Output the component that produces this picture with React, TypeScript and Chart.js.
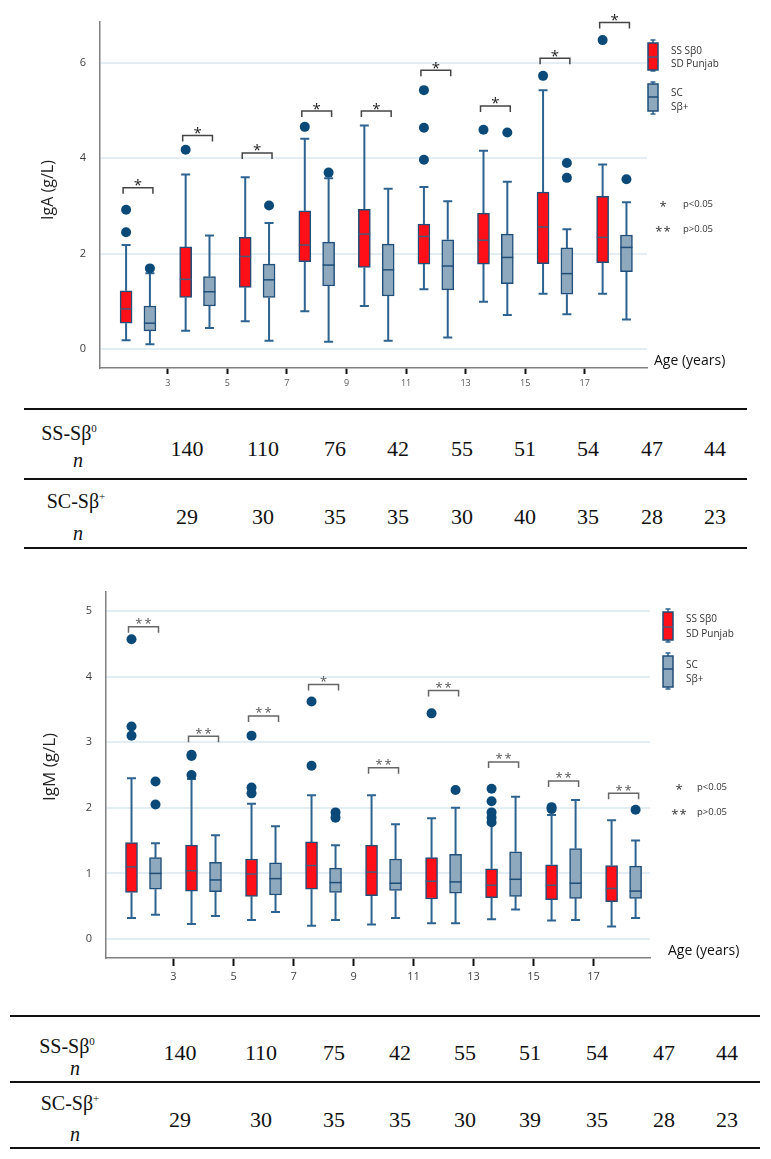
import React, { useEffect, useRef } from "react";
import { Chart, registerables } from "chart.js";

Chart.register(...registerables);

// ---------------- DATA ----------------
const ages = [2, 4, 6, 8, 10, 12, 14, 16, 18];
const xTickAges = [3, 5, 7, 9, 11, 13, 15, 17];

// IgA (g/L)
const igaYTicks = [0, 2, 4, 6];
const igaSSLow = [0.18, 0.38, 0.58, 0.79, 0.9, 1.25, 0.99, 1.16, 1.16];
const igaSSQ1 = [0.54, 1.08, 1.29, 1.83, 1.71, 1.78, 1.78, 1.79, 1.81];
const igaSSMed = [0.84, 1.46, 1.94, 2.18, 2.41, 2.36, 2.28, 2.56, 2.34];
const igaSSQ3 = [1.22, 2.14, 2.34, 2.9, 2.93, 2.62, 2.85, 3.29, 3.2];
const igaSSHigh = [2.18, 3.66, 3.6, 4.41, 4.69, 3.4, 4.16, 5.43, 3.87];
const igaSSOut = [[2.92, 2.45], [4.18], [], [4.66], [], [5.43, 4.64, 3.97], [4.6], [5.73], [6.48]];

const igaSCLow = [0.1, 0.44, 0.17, 0.15, 0.17, 0.24, 0.71, 0.73, 0.62];
const igaSCQ1 = [0.38, 0.9, 1.08, 1.32, 1.11, 1.24, 1.37, 1.15, 1.62];
const igaSCMed = [0.54, 1.2, 1.45, 1.76, 1.66, 1.74, 1.92, 1.58, 2.13];
const igaSCQ3 = [0.9, 1.52, 1.78, 2.24, 2.2, 2.29, 2.41, 2.12, 2.39];
const igaSCHigh = [1.59, 2.38, 2.64, 3.58, 3.36, 3.1, 3.51, 2.51, 3.08];
const igaSCOut = [[1.69], [], [3.01], [3.7], [], [], [4.54], [3.9, 3.59], [3.56]];

const igaBracketY = [3.38, 4.48, 4.11, 4.99, 4.99, 5.85, 5.1, 6.1, 6.85];
const igaBracketLabel = ["*", "*", "*", "*", "*", "*", "*", "*", "*"];

// IgM (g/L)
const igmYTicks = [0, 1, 2, 3, 4, 5];
const igmSSLow = [0.32, 0.23, 0.29, 0.2, 0.22, 0.24, 0.3, 0.28, 0.19];
const igmSSQ1 = [0.71, 0.73, 0.65, 0.76, 0.66, 0.61, 0.63, 0.6, 0.57];
const igmSSMed = [1.1, 1.04, 0.99, 1.12, 1.02, 0.88, 0.82, 0.82, 0.77];
const igmSSQ3 = [1.47, 1.43, 1.22, 1.48, 1.43, 1.24, 1.07, 1.13, 1.12];
const igmSSHigh = [2.45, 2.44, 2.06, 2.19, 2.19, 1.84, 1.76, 1.89, 1.81];
const igmSSOut = [[4.57, 3.24, 3.1], [2.79, 2.81, 2.5], [3.1, 2.31, 2.22], [3.62, 2.64], [], [3.44], [2.29, 2.1, 1.93, 1.85, 1.78], [2.01, 1.98], []];

const igmSCLow = [0.37, 0.35, 0.41, 0.29, 0.32, 0.24, 0.45, 0.29, 0.32];
const igmSCQ1 = [0.76, 0.72, 0.67, 0.71, 0.74, 0.7, 0.65, 0.62, 0.62];
const igmSCMed = [1.0, 0.9, 0.92, 0.86, 0.85, 0.87, 0.91, 0.85, 0.73];
const igmSCQ3 = [1.24, 1.17, 1.16, 1.08, 1.22, 1.29, 1.33, 1.38, 1.11];
const igmSCHigh = [1.46, 1.58, 1.72, 1.43, 1.75, 2.0, 2.17, 2.12, 1.5];
const igmSCOut = [[2.4, 2.05], [], [], [1.93, 1.85], [], [2.27], [], [], [1.97]];

const igmBracketY = [4.76, 3.09, 3.4, 3.88, 2.61, 3.79, 2.7, 2.41, 2.22];
const igmBracketLabel = ["**", "**", "**", "*", "**", "**", "**", "**", "**"];

// legend texts
const ssLegendLines = ["SS Sβ0", "SD Punjab"];
const scLegendLines = ["SC", "Sβ+"];
const pLegendStars = ["*", "**"];
const pLegendTexts = ["p<0.05", "p>0.05"];

// table counts (n)
const igaSSn = [140, 110, 76, 42, 55, 51, 54, 47, 44];
const igaSCn = [29, 30, 35, 35, 30, 40, 35, 28, 23];
const igmSSn = [140, 110, 75, 42, 55, 51, 54, 47, 44];
const igmSCn = [29, 30, 35, 35, 30, 39, 35, 28, 23];

// ---------------- STYLE ----------------
const RED = "#ff1018";
const BLUE = "#8ea8bd";
const BOX_BORDER = "#1f4e79";
const WHISKER = "#2d6390";
const DOT = "#0b4a78";
const RED_MED = "#4a5878";
const FONT = "'Open Sans', 'DejaVu Sans', sans-serif";
const SERIF = '"Liberation Serif", "Times New Roman", "DejaVu Serif", serif';

const igaSpec = {
  key: "iga",
  title: "IgA (g/L)",
  ss: { low: igaSSLow, q1: igaSSQ1, med: igaSSMed, q3: igaSSQ3, high: igaSSHigh, out: igaSSOut },
  sc: { low: igaSCLow, q1: igaSCQ1, med: igaSCMed, q3: igaSCQ3, high: igaSCHigh, out: igaSCOut },
  bracketY: igaBracketY,
  bracketLabel: igaBracketLabel,
  yTicks: igaYTicks,
  L: {
    top: 0, height: 400, padTop: 22, padRight: 124, yWidth: 100, xHeight: 32,
    xMin: 0.724, xMax: 19.09, yMin: -0.4, yMax: 6.86, off: 0.4,
    yTickPad: 14, yTickSize: 11, xTickSize: 9, xTickPad: 4, tickLen: 6, xTickColor: "#555",
    titleX: 48, titleY: 190, titleSize: 16,
    ageX: 654, ageY: 361,
    lgCx: 653, lgRed: [40, 43, 57, 70, 71], lgBlue: [82, 84, 97, 111, 114],
    lgTextX: 671, lgRedText: [51, 64], lgBlueText: [93, 107],
    pStarX: 663, pTextX: 683, pY: [204, 229],
    starSize: 15, starColor: "#222", starSpacing: 0, bracketColor: "#444",
  },
};

const igmSpec = {
  key: "igm",
  title: "IgM (g/L)",
  ss: { low: igmSSLow, q1: igmSSQ1, med: igmSSMed, q3: igmSSQ3, high: igmSSHigh, out: igmSSOut },
  sc: { low: igmSCLow, q1: igmSCQ1, med: igmSCMed, q3: igmSCQ3, high: igmSCHigh, out: igmSCOut },
  bracketY: igmBracketY,
  bracketLabel: igmBracketLabel,
  yTicks: igmYTicks,
  L: {
    top: 570, height: 420, padTop: 22, padRight: 121, yWidth: 106, xHeight: 32,
    xMin: 0.75, xMax: 18.88, yMin: -0.29, yMax: 5.29, off: 0.4,
    yTickPad: 14, yTickSize: 11, xTickSize: 11, xTickPad: 4, tickLen: 8, xTickColor: "#444",
    titleX: 50, titleY: 197, titleSize: 17,
    ageX: 668, ageY: 381,
    lgCx: 668, lgRed: [39, 42, 57, 70, 72], lgBlue: [83, 86, 99, 117, 119],
    lgTextX: 686, lgRedText: [49, 64], lgBlueText: [95, 109],
    pStarX: 679, pTextX: 697, pY: [217, 242],
    starSize: 13, starColor: "#555", starSpacing: 2, bracketColor: "#666",
  },
};

function drawStars(ctx, text, cx, cy, size, color, spacing) {
  ctx.save();
  ctx.font = `${size}px ${FONT}`;
  ctx.fillStyle = color;
  ctx.textAlign = "center";
  ctx.textBaseline = "alphabetic";
  try { ctx.letterSpacing = `${spacing}px`; } catch (e) {}
  ctx.fillText(text, cx + spacing / 2, cy + 0.56 * size);
  ctx.restore();
}

function drawGlyph(ctx, cx, v, fill, medColor) {
  const [capT, boxT, med, boxB, capB] = v;
  ctx.save();
  ctx.strokeStyle = WHISKER;
  ctx.lineWidth = 1.5;
  ctx.beginPath();
  ctx.moveTo(cx, capT); ctx.lineTo(cx, capB);
  ctx.moveTo(cx - 2.5, capT); ctx.lineTo(cx + 2.5, capT);
  ctx.moveTo(cx - 2.5, capB); ctx.lineTo(cx + 2.5, capB);
  ctx.stroke();
  ctx.fillStyle = fill;
  ctx.fillRect(cx - 5, boxT, 10, boxB - boxT);
  ctx.strokeStyle = BOX_BORDER;
  ctx.strokeRect(cx - 5, boxT, 10, boxB - boxT);
  ctx.strokeStyle = medColor;
  ctx.beginPath();
  ctx.moveTo(cx - 5, med); ctx.lineTo(cx + 5, med);
  ctx.stroke();
  ctx.restore();
}

function makeExtras(spec) {
  const L = spec.L;
  const groups = [
    { st: spec.ss, off: -L.off, med: RED_MED },
    { st: spec.sc, off: L.off, med: BOX_BORDER },
  ];
  return {
    id: "extras_" + spec.key,
    beforeDatasetsDraw(chart) {
      const { ctx } = chart;
      const x = chart.scales.x;
      const y = chart.scales.y;
      ctx.save();
      ctx.strokeStyle = WHISKER;
      ctx.lineWidth = 2;
      for (const g of groups) {
        ages.forEach((a, i) => {
          const cx = x.getPixelForValue(a + g.off);
          const yl = y.getPixelForValue(g.st.low[i]);
          const y1 = y.getPixelForValue(g.st.q1[i]);
          const y3 = y.getPixelForValue(g.st.q3[i]);
          const yh = y.getPixelForValue(g.st.high[i]);
          ctx.beginPath();
          ctx.moveTo(cx, yl); ctx.lineTo(cx, y1);
          ctx.moveTo(cx, y3); ctx.lineTo(cx, yh);
          ctx.moveTo(cx - 4.5, yl); ctx.lineTo(cx + 4.5, yl);
          ctx.moveTo(cx - 4.5, yh); ctx.lineTo(cx + 4.5, yh);
          ctx.stroke();
        });
      }
      ctx.restore();
    },
    afterDatasetsDraw(chart) {
      const { ctx } = chart;
      const x = chart.scales.x;
      const y = chart.scales.y;
      ctx.save();
      for (const g of groups) {
        ctx.strokeStyle = g.med;
        ctx.lineWidth = 1.5;
        ages.forEach((a, i) => {
          const cx = x.getPixelForValue(a + g.off);
          const ym = y.getPixelForValue(g.st.med[i]);
          ctx.beginPath();
          ctx.moveTo(cx - 6, ym); ctx.lineTo(cx + 6, ym);
          ctx.stroke();
        });
      }
      ctx.strokeStyle = L.bracketColor;
      ctx.lineWidth = 1.5;
      ages.forEach((a, i) => {
        const xl = x.getPixelForValue(a - 0.5);
        const xr = x.getPixelForValue(a + 0.5);
        const yb = y.getPixelForValue(spec.bracketY[i]);
        ctx.beginPath();
        ctx.moveTo(xl, yb + 6); ctx.lineTo(xl, yb); ctx.lineTo(xr, yb); ctx.lineTo(xr, yb + 6);
        ctx.stroke();
        drawStars(ctx, spec.bracketLabel[i], (xl + xr) / 2, yb - 6, L.starSize, L.starColor, L.starSpacing);
      });
      ctx.restore();
    },
    afterDraw(chart) {
      const { ctx } = chart;
      ctx.save();
      ctx.save();
      ctx.translate(L.titleX, L.titleY);
      ctx.rotate(-Math.PI / 2);
      ctx.font = `${L.titleSize}px ${FONT}`;
      ctx.fillStyle = "#222";
      ctx.textAlign = "center";
      ctx.textBaseline = "middle";
      ctx.fillText(spec.title, 0, 0);
      ctx.restore();
      ctx.font = `14px ${FONT}`;
      ctx.fillStyle = "#111";
      ctx.textAlign = "left";
      ctx.textBaseline = "middle";
      ctx.fillText("Age (years)", L.ageX, L.ageY);
      drawGlyph(ctx, L.lgCx, L.lgRed, RED, RED_MED);
      drawGlyph(ctx, L.lgCx, L.lgBlue, BLUE, BOX_BORDER);
      ctx.font = `10px ${FONT}`;
      ctx.fillStyle = "#333";
      ctx.textAlign = "left";
      ctx.textBaseline = "middle";
      ssLegendLines.forEach((t, k) => ctx.fillText(t, L.lgTextX, L.lgRedText[k]));
      scLegendLines.forEach((t, k) => ctx.fillText(t, L.lgTextX, L.lgBlueText[k]));
      pLegendStars.forEach((s, k) => {
        drawStars(ctx, s, L.pStarX, L.pY[k], 13, "#333", 1);
        ctx.font = `9.5px ${FONT}`;
        ctx.fillStyle = "#333";
        ctx.textAlign = "left";
        ctx.textBaseline = "middle";
        ctx.fillText(pLegendTexts[k], L.pTextX, L.pY[k]);
      });
      ctx.restore();
    },
  };
}

function buildConfig(spec) {
  const L = spec.L;
  const mkBox = (st, off, fill, label) => ({
    type: "bar",
    label,
    data: ages.map((a, i) => ({ x: a + off, y: [st.q1[i], st.q3[i]] })),
    backgroundColor: fill,
    borderColor: BOX_BORDER,
    borderWidth: 1.5,
    borderSkipped: false,
    barThickness: 12,
    grouped: false,
    order: 2,
  });
  const mkOut = (st, off) => ages.flatMap((a, i) => st.out[i].map((v) => ({ x: a + off, y: v })));
  return {
    type: "bar",
    data: {
      datasets: [
        {
          type: "scatter",
          label: "outliers",
          data: [...mkOut(spec.ss, -L.off), ...mkOut(spec.sc, L.off)],
          pointRadius: 5,
          pointHoverRadius: 5,
          pointBackgroundColor: DOT,
          pointBorderWidth: 0,
          order: 0,
        },
        mkBox(spec.ss, -L.off, RED, "SS Sβ0 / SD Punjab"),
        mkBox(spec.sc, L.off, BLUE, "SC / Sβ+"),
      ],
    },
    options: {
      responsive: false,
      animation: false,
      events: [],
      layout: { padding: { top: L.padTop, right: L.padRight, left: 0, bottom: 0 } },
      plugins: { legend: { display: false }, tooltip: { enabled: false } },
      scales: {
        x: {
          type: "linear",
          min: L.xMin,
          max: L.xMax,
          offset: false,
          afterBuildTicks: (s) => { s.ticks = xTickAges.map((v) => ({ value: v })); },
          afterFit: (s) => { s.height = L.xHeight; },
          grid: { display: true, drawOnChartArea: false, drawTicks: true, tickLength: L.tickLen, tickColor: "#111", tickWidth: 2, offset: false },
          border: { display: true, color: "#808080", width: 1.5 },
          ticks: { autoSkip: false, maxRotation: 0, padding: L.xTickPad, color: L.xTickColor, font: { family: FONT, size: L.xTickSize } },
        },
        y: {
          type: "linear",
          min: L.yMin,
          max: L.yMax,
          afterBuildTicks: (s) => { s.ticks = spec.yTicks.map((v) => ({ value: v })); },
          afterFit: (s) => { s.width = L.yWidth; },
          grid: { display: true, drawTicks: false, color: "#e3eef4", lineWidth: 2 },
          border: { display: true, color: "#808080", width: 1.5 },
          ticks: { padding: L.yTickPad, color: "#404040", font: { family: FONT, size: L.yTickSize } },
        },
      },
    },
    plugins: [makeExtras(spec)],
  };
}

function BoxChart({ spec }) {
  const ref = useRef(null);
  useEffect(() => {
    const chart = new Chart(ref.current, buildConfig(spec));
    return () => chart.destroy();
  }, [spec]);
  const L = spec.L;
  return (
    <canvas
      ref={ref}
      width={771}
      height={L.height}
      style={{ position: "absolute", left: 0, top: L.top, width: 771, height: L.height }}
    />
  );
}

function Txt({ x, base, size, italic, children }) {
  return (
    <div
      style={{
        position: "absolute",
        left: x,
        top: base - 0.8375 * size,
        transform: "translateX(-50%)",
        fontFamily: SERIF,
        fontSize: size,
        lineHeight: 1,
        fontStyle: italic ? "italic" : "normal",
        whiteSpace: "nowrap",
        color: "#111",
      }}
    >
      {children}
    </div>
  );
}

function Sup({ children }) {
  return <span style={{ fontSize: "0.55em", position: "relative", top: "-0.75em" }}>{children}</span>;
}

function NTable({ ssN, scN, T }) {
  return (
    <>
      {T.lines.map((ly, k) => (
        <div
          key={"l" + k}
          style={{ position: "absolute", left: T.x1, width: T.x2 - T.x1, top: ly - T.lw[k] / 2, height: T.lw[k], background: "#111" }}
        />
      ))}
      <Txt x={T.labX[0]} base={T.labBase[0]} size={T.labSize}>SS-Sβ<Sup>0</Sup></Txt>
      <Txt x={T.nX} base={T.nBase[0]} size={T.labSize} italic>n</Txt>
      <Txt x={T.labX[1]} base={T.labBase[1]} size={T.labSize}>SC-Sβ<Sup>+</Sup></Txt>
      <Txt x={T.nX} base={T.nBase[1]} size={T.labSize} italic>n</Txt>
      {ssN.map((v, i) => (
        <Txt key={"a" + i} x={T.colX[i]} base={T.numBase[0]} size={T.numSize}>{v}</Txt>
      ))}
      {scN.map((v, i) => (
        <Txt key={"b" + i} x={T.colX[i]} base={T.numBase[1]} size={T.numSize}>{v}</Txt>
      ))}
    </>
  );
}

const igaTable = {
  x1: 24, x2: 747, lines: [409, 479, 548], lw: [2.5, 1.5, 2.5],
  labX: [69, 76], nX: 78, labBase: [440, 508], nBase: [467, 540], numBase: [456, 524],
  colX: [187, 263, 335, 398, 462, 525, 588, 652, 715], labSize: 20, numSize: 22,
};
const igmTable = {
  x1: 10, x2: 760, lines: [1016, 1082, 1148], lw: [2.5, 1.5, 2.5],
  labX: [67, 70], nX: 75, labBase: [1053, 1110], nBase: [1075, 1141], numBase: [1060, 1127],
  colX: [180, 261, 334, 400, 465, 530, 597, 664, 727], labSize: 20, numSize: 22,
};

export default function App() {
  return (
    <div style={{ position: "absolute", left: 0, top: 0, width: 771, height: 1159, background: "#fff", overflow: "hidden" }}>
      <BoxChart spec={igaSpec} />
      <NTable ssN={igaSSn} scN={igaSCn} T={igaTable} />
      <BoxChart spec={igmSpec} />
      <NTable ssN={igmSSn} scN={igmSCn} T={igmTable} />
    </div>
  );
}
